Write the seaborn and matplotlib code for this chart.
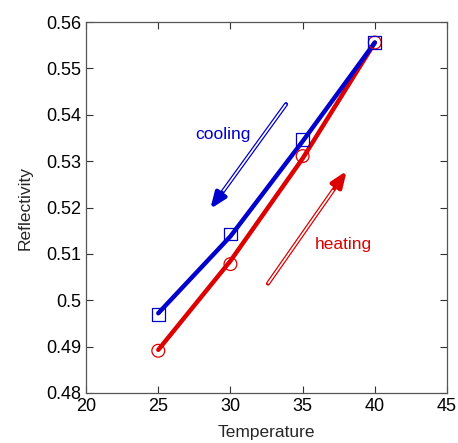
import matplotlib
matplotlib.use("Agg")
import matplotlib.pyplot as plt
import seaborn as sns
import pandas as pd

# data
temps = [25, 30, 35, 40]
cooling = [0.4970, 0.5143, 0.5347, 0.5556]
heating = [0.4891, 0.5078, 0.5311, 0.5556]
cooling_fit = [0.4972, 0.5138, 0.5343, 0.5556]
heating_fit = [0.4893, 0.5085, 0.5306, 0.5556]
xticks = [20, 25, 30, 35, 40, 45]
yticks = [0.48, 0.49, 0.50, 0.51, 0.52, 0.53, 0.54, 0.55, 0.56]
ytick_labels = ["0.48", "0.49", "0.5", "0.51", "0.52", "0.53", "0.54", "0.55", "0.56"]

BLUE = "#0000cc"
RED = "#dd0000"

sns.set_style("ticks")
plt.rcParams["font.family"] = ["Liberation Sans", "DejaVu Sans"]

fig = plt.figure(figsize=(4.58, 4.43), dpi=100)
ax = fig.add_axes([0.188, 0.113, 0.788, 0.837])

df = pd.DataFrame({"T": temps, "cool": cooling, "heat": heating,
                   "cf": cooling_fit, "hf": heating_fit})

sns.lineplot(data=df, x="T", y="hf", color=RED, lw=3.2, ax=ax,
             solid_capstyle="round", solid_joinstyle="round")
sns.lineplot(data=df, x="T", y="cf", color=BLUE, lw=3.2, ax=ax,
             solid_capstyle="round", solid_joinstyle="round")
sns.scatterplot(data=df, x="T", y="heat", marker="o", s=85, facecolor="none",
                edgecolor=RED, linewidth=0.9, ax=ax, zorder=5)
sns.scatterplot(data=df, x="T", y="cool", marker="s", s=85, facecolor="none",
                edgecolor=BLUE, linewidth=0.9, ax=ax, zorder=5)

def double_arrow(ax, tail, tip, color):
    ax.annotate("", xy=tip, xytext=tail,
                arrowprops=dict(arrowstyle="-|>,head_length=0.95,head_width=0.38",
                                color=color, lw=3.0, shrinkA=0, shrinkB=0))
    fx = 0.83
    mid = (tail[0] + (tip[0] - tail[0]) * fx, tail[1] + (tip[1] - tail[1]) * fx)
    ax.plot([tail[0], mid[0]], [tail[1], mid[1]], color="white", lw=1.2,
            solid_capstyle="butt", zorder=4)

double_arrow(ax, (33.85, 0.5423), (28.6, 0.5197), BLUE)
double_arrow(ax, (32.6, 0.5036), (38.05, 0.5279), RED)

ax.text(29.45, 0.5358, "cooling", color=BLUE, fontsize=12.5, ha="center", va="center")
ax.text(37.8, 0.5121, "heating", color=RED, fontsize=12.5, ha="center", va="center")

ax.set_xlim(20, 45)
ax.set_ylim(0.48, 0.56)
ax.set_xticks(xticks)
ax.set_yticks(yticks)
ax.set_yticklabels(ytick_labels)
ax.tick_params(direction="in", length=5, width=0.8, labelsize=13,
               top=True, right=True, colors="#333333", labelcolor="black")
for s in ax.spines.values():
    s.set_visible(True)
    s.set_color("#555555")
    s.set_linewidth(0.9)
ax.set_xlabel("Temperature", fontsize=12.5, labelpad=7)
ax.set_ylabel("Reflectivity", fontsize=12.5, labelpad=10)

fig.savefig("out.png", dpi=100)
